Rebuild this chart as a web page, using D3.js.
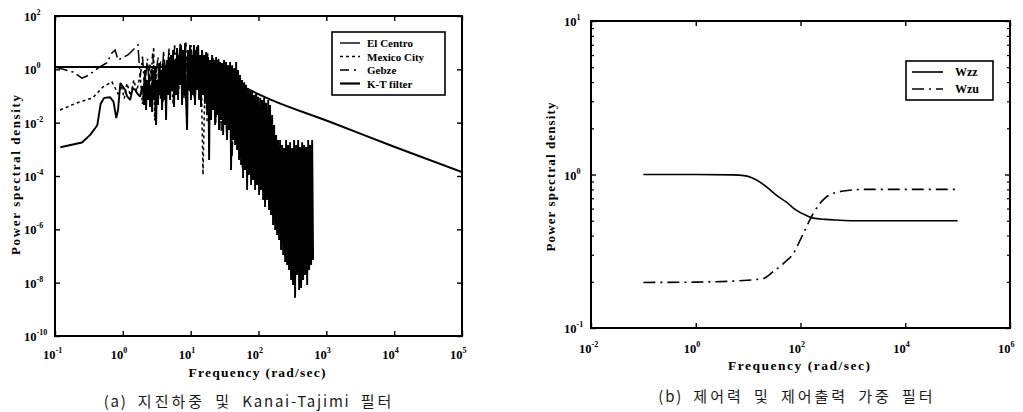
<!DOCTYPE html>
<html>
<head>
<meta charset="utf-8">
<script src="https://cdn.jsdelivr.net/npm/d3@7"></script>
<style>
  body { margin: 0; background: #fff; }
  svg { display: block; }
  .lab { font-family: "Liberation Serif", "DejaVu Serif", serif; font-weight: bold; fill: #000; }
  .cap { font-family: "Noto Sans CJK KR", sans-serif; fill: #1a1a1a; }
</style>
</head>
<body>
<svg id="chart" width="1023" height="412"></svg>
<script>
const d3 = globalThis.d3;

// ---- data: left panel, [frequency rad/s, PSD]
const ktFilter = [[0.1, 1.22], [1, 1.22], [3, 1.22], [6, 1.2], [10, 1.15], [20, 0.8], [30, 0.5],
  [50, 0.27], [75, 0.165], [148, 0.075], [1150, 0.0106], [1e4, 1.25e-3], [1e5, 1.4e-4]];

const gebze = [[0.1, 1.22], [0.184, 0.79], [0.25, 0.47], [0.296, 0.56], [0.36, 0.79], [0.45, 1.2],
  [0.58, 1.73], [0.69, 4.1], [0.77, 5.3], [0.85, 2.24], [1.19, 3.45], [1.67, 8.2], [1.8, 0.5],
  [1.95, 3.0], [2.1, 0.2], [2.3, 2.5], [2.5, 0.1], [2.75, 4.0], [3.0, 0.3], [3.3, 3.0], [3.6, 0.08],
  [4.0, 5.0], [4.4, 0.3], [4.8, 6.0], [5.3, 0.15], [5.8, 8.0], [6.4, 0.4], [7.0, 9.0], [7.7, 0.2],
  [8.5, 10], [9.3, 0.3], [10.2, 8.0], [11.2, 0.1], [12.3, 7.0], [13.5, 0.4], [14.8, 5.0], [16.2, 0.05],
  [17.8, 4.0], [19.5, 0.02], [21.4, 3.0], [23.5, 0.01], [25.8, 2.5], [28.3, 0.005], [31, 2.0],
  [34, 3e-3], [37, 1.5], [40.8, 5e-4], [44.7, 1.0], [49, 1e-3], [53.5, 0.5], [58, 2e-4], [64, 0.3], [70, 1e-4]];

const mexicoCity = [[0.119, 0.03], [0.21, 0.055], [0.36, 0.085], [0.51, 0.22], [0.69, 0.34], [0.77, 0.2],
  [0.85, 0.12], [0.95, 0.25], [1.05, 0.08], [1.15, 0.3], [1.3, 0.1], [1.45, 0.4], [1.6, 0.15], [1.8, 0.6],
  [1.95, 0.05], [2.1, 0.9], [2.3, 0.08], [2.5, 1.5], [2.7, 0.2], [2.85, 6.9], [2.95, 0.012], [3.1, 1.2],
  [3.3, 0.1], [3.6, 2.0], [3.9, 0.06], [4.2, 1.5], [4.6, 0.2], [5.0, 3.0], [5.5, 0.05], [6.0, 2.0],
  [6.6, 0.12], [7.2, 4.0], [8.0, 0.08], [8.8, 3.0], [9.6, 0.15], [10.5, 2.5], [11.5, 0.05], [12.5, 1.5],
  [13.5, 0.1], [14.2, 2.0], [15.2, 1.1e-4], [16.3, 0.5], [17.5, 0.01]];

const elCentro = [[0.12, 1.2e-3], [0.25, 1.8e-3], [0.33, 3.5e-3], [0.42, 8e-3], [0.47, 0.05], [0.53, 0.085],
  [0.65, 0.09], [0.73, 0.06], [0.8, 0.015], [0.85, 0.03], [0.92, 0.31], [0.97, 0.25], [1.08, 0.17],
  [1.15, 0.1], [1.28, 0.071], [1.4, 0.2], [1.51, 0.17], [1.65, 0.12], [1.8, 0.095], [1.92, 0.22],
  [1.99, 0.22], [2.05, 0.046], [2.12, 0.94], [2.2, 0.03], [2.27, 0.4], [2.35, 0.071], [2.43, 0.61],
  [2.52, 0.039], [2.61, 0.26], [2.7, 0.025], [2.79, 0.94], [2.88, 0.071], [2.98, 1.22], [3.09, 8.2e-3],
  [3.19, 0.4], [3.3, 0.046], [3.42, 1.73], [3.54, 0.109], [3.66, 0.94], [3.79, 0.03], [3.92, 1.73],
  [4.05, 0.071], [4.19, 1.22], [4.34, 0.0126], [4.49, 2.24], [4.64, 0.109], [4.8, 2.9], [4.97, 0.071],
  [5.14, 3.45], [5.32, 0.168], [5.5, 5.3], [5.69, 0.039], [5.89, 2.24], [6.09, 0.109], [6.3, 6.3],
  [6.52, 0.071], [6.75, 3.45], [6.98, 0.26], [7.22, 8.2], [7.47, 0.046], [7.73, 5.3], [8.0, 0.109],
  [8.27, 9.7], [8.55, 0.071], [8.85, 5.3e-3], [9.16, 5.3], [9.47, 0.168], [9.8, 8.2], [10.1, 0.071],
  [10.5, 3.45], [10.8, 0.109], [11.2, 8.2], [11.6, 0.046], [12.0, 5.3], [12.4, 0.168], [12.9, 8.2],
  [13.3, 0.071], [13.8, 3.45], [14.2, 0.039], [14.7, 5.3], [15.2, 0.109], [15.8, 3.45], [16.3, 0.071],
  [16.9, 4.5], [17.5, 0.0194], [18.1, 2.9], [18.7, 4.0e-4], [19.3, 2.24], [20.0, 0.0126], [20.7, 3.45],
  [21.4, 0.03], [22.1, 2.24], [22.9, 8.2e-3], [23.7, 2.9], [24.5, 0.0194], [25.4, 2.24], [26.2, 5.3e-3],
  [27.2, 1.9], [28.1, 0.0126], [29.0, 1.73], [30.1, 3.45e-3], [31.1, 2.24], [32.2, 8.2e-3], [33.3, 1.9],
  [34.4, 2.24e-3], [35.6, 1.43], [36.9, 5.3e-3], [38.1, 1.9], [39.4, 1.68e-4], [40.8, 1.43],
  [42.2, 2.24e-3], [43.7, 1.1], [45.2, 1.46e-3], [46.8, 1.9], [48.4, 9.4e-4], [50.0, 0.94],
  [51.7, 4.0e-4], [53.5, 0.61], [55.4, 2.6e-4], [57.3, 0.4], [59.3, 8.4e-5], [61.4, 0.33],
  [63.5, 1.68e-4], [65.6, 0.26], [67.9, 3.0e-5], [70.3, 0.2], [72.7, 1.09e-4], [75.2, 0.168],
  [77.8, 4.6e-5], [80.5, 0.14], [83.2, 7.1e-5], [86.1, 0.109], [89.1, 3.0e-5], [92.2, 0.13],
  [95.4, 4.6e-5], [98.6, 0.094], [102, 1.94e-5], [106, 0.085], [109, 3.0e-5], [113, 0.071],
  [117, 1.26e-5], [121, 0.085], [125, 6.9e-6], [129, 0.056], [134, 1.26e-5], [139, 0.071],
  [143, 5.3e-6], [148, 0.046], [153, 3.45e-6], [159, 0.0194], [164, 1.46e-6], [170, 8.2e-3],
  [176, 9.4e-7], [182, 3.45e-3], [188, 6.1e-7], [194, 2.24e-3], [201, 4.0e-7], [208, 2.24e-3],
  [215, 1.68e-7], [223, 1.46e-3], [231, 1.09e-7], [239, 1.12e-3], [247, 6.0e-8], [255, 2.24e-3],
  [264, 4.6e-8], [273, 1.46e-3], [282, 3.0e-8], [292, 1.85e-3], [302, 1.26e-8], [313, 1.12e-3],
  [323, 8.1e-9], [335, 2.24e-3], [346, 2.7e-9], [359, 1.46e-3], [371, 1.94e-8], [384, 2.24e-3],
  [397, 5.3e-9], [411, 1.22e-3], [425, 6.3e-9], [440, 1.85e-3], [455, 1.26e-8], [471, 1.46e-3],
  [487, 1.94e-8], [504, 1.22e-3], [522, 8.1e-9], [540, 2.24e-3], [558, 3.0e-8], [577, 1.46e-3],
  [597, 4.6e-8], [618, 2.24e-3], [638, 7.1e-8]];

// ---- data: right panel weighting filters
const wzz = [[0.1, 1.0], [1, 1.0], [5, 0.995], [9, 0.98], [14.5, 0.92], [22.5, 0.83], [35, 0.73],
  [54, 0.66], [80, 0.59], [130, 0.54], [175, 0.52], [300, 0.51], [490, 0.505], [1000, 0.5], [1e4, 0.5], [1e5, 0.5]];
const wzu = [[0.1, 0.198], [1, 0.199], [8, 0.204], [19.5, 0.21], [30, 0.233], [47, 0.263], [73, 0.306],
  [112, 0.41], [175, 0.557], [316, 0.716], [660, 0.78], [1820, 0.8], [1e4, 0.8], [1e5, 0.8]];

// ticks and texts
const leftXTicks = [1e-1, 1e0, 1e1, 1e2, 1e3, 1e4, 1e5];
const leftYTicks = [1e2, 1e0, 1e-2, 1e-4, 1e-6, 1e-8, 1e-10];
const rightXTicks = [1e-2, 1e0, 1e2, 1e4, 1e6];
const rightYTicks = [1e-1, 1e0, 1e1];
const leftLegend = ["El Centro", "Mexico City", "Gebze", "K-T filter"];
const rightLegend = ["Wzz", "Wzu"];
const yTitle = "Power spectral density";
const xTitle = "Frequency (rad/sec)";
const captionA = "(a) 지진하중 및 Kanai-Tajimi 필터";
const captionB = "(b) 제어력 및 제어출력 가중 필터";

const svg = d3.select("#chart");
svg.append("rect").attr("width", 1023).attr("height", 412).attr("fill", "#fff");

const dashGebze = "13,4,2,4";
const dashMexico = "3,3";
const dashWzu = "12,5,2,5";

function expOf(d) { return Math.round(Math.log10(d)); }

function supText(sel, d) {
  sel.append("tspan").text("10");
  sel.append("tspan").attr("dy", -6).attr("font-size", 8).text(expOf(d));
}

// korean runs are set wide like the scanned figure
function captionText(sel, str) {
  str.match(/[\uAC00-\uD7A3]+|[^\uAC00-\uD7A3]+/g).forEach(run => {
    const ko = /[\uAC00-\uD7A3]/.test(run);
    sel.append("tspan").attr("letter-spacing", ko ? 3 : 1.8).text(run);
  });
}

function panel(id, x, y, xTicks, yTicks, opt) {
  const g = svg.append("g").attr("id", id);
  const [x0, x1] = x.range();
  const [y0, y1] = y.range();

  g.append("clipPath").attr("id", id + "-clip")
    .append("rect").attr("x", x0).attr("y", y1).attr("width", x1 - x0).attr("height", y0 - y1);

  // inward ticks on all four sides
  const ax = [
    [d3.axisBottom(x).tickValues(xTicks), `translate(0,${y0})`],
    [d3.axisTop(x).tickValues(xTicks), `translate(0,${y1})`],
    [d3.axisLeft(y).tickValues(yTicks), `translate(${x0},0)`],
    [d3.axisRight(y).tickValues(yTicks), `translate(${x1},0)`]
  ];
  ax.forEach(([a, t]) => {
    g.append("g").attr("transform", t)
      .call(a.tickSize(-5).tickFormat(""))
      .call(s => s.select(".domain").remove())
      .selectAll("line").attr("stroke", "#000").attr("stroke-width", 1.4);
  });
  if (opt.minorY) {
    const minor = y.ticks().filter(d => yTicks.indexOf(d) < 0);
    [[d3.axisLeft(y), x0], [d3.axisRight(y), x1]].forEach(([a, px]) => {
      g.append("g").attr("transform", `translate(${px},0)`)
        .call(a.tickValues(minor).tickSize(-3).tickFormat(""))
        .call(s => s.select(".domain").remove())
        .selectAll("line").attr("stroke", "#000").attr("stroke-width", 1.2);
    });
  }

  g.append("rect").attr("x", x0).attr("y", y1).attr("width", x1 - x0).attr("height", y0 - y1)
    .attr("fill", "none").attr("stroke", "#000").attr("stroke-width", 2);

  g.selectAll(".xl").data(xTicks).join("text")
    .attr("class", "lab xl").attr("font-size", 12.5)
    .attr("x", d => x(d) - 12).attr("y", opt.xLabY)
    .each(function (d) { supText(d3.select(this), d); });

  g.selectAll(".yl").data(yTicks).join("text")
    .attr("class", "lab yl").attr("font-size", 12.5)
    .attr("x", opt.yLabX).attr("y", d => y(d) + 5)
    .each(function (d) { supText(d3.select(this), d); });

  g.append("text").attr("class", "lab").attr("font-size", 13)
    .attr("text-anchor", "middle")
    .attr("transform", `translate(${opt.yTitleX},${opt.yTitleY}) rotate(-90)`)
    .attr("textLength", opt.yTitleLen).attr("lengthAdjust", "spacing")
    .text(yTitle);

  g.append("text").attr("class", "lab").attr("font-size", 13.5)
    .attr("text-anchor", "middle")
    .attr("x", opt.xTitleX).attr("y", opt.xTitleY)
    .attr("textLength", opt.xTitleLen).attr("lengthAdjust", "spacing")
    .text(xTitle);

  g.append("text").attr("class", "cap").attr("font-size", 15)
    .attr("text-anchor", "middle").attr("word-spacing", 5)
    .attr("x", opt.capX).attr("y", opt.capY)
    .call(captionText, opt.caption);

  return g;
}

// ---------- (a) earthquake loads and Kanai-Tajimi filter
const xA = d3.scaleLog().domain([1e-1, 1e5]).range([55, 462]);
const yA = d3.scaleLog().domain([1e-10, 1e2]).range([336, 16]);

const gA = panel("pa", xA, yA, leftXTicks, leftYTicks, {
  xLabY: 359, yLabX: 24,
  yTitleX: 20, yTitleY: 175, yTitleLen: 160,
  xTitleX: 257, xTitleY: 377, xTitleLen: 137,
  capX: 249, capY: 407, caption: captionA
});

const lineA = d3.line().x(d => xA(d[0])).y(d => yA(d[1]));
const smoothA = d3.line().x(d => xA(d[0])).y(d => yA(d[1])).curve(d3.curveMonotoneX);
const curvesA = gA.append("g").attr("clip-path", "url(#pa-clip)").attr("fill", "none").attr("stroke", "#000");

curvesA.append("path").attr("d", lineA(elCentro)).attr("stroke-width", 1.9).attr("stroke-linejoin", "bevel");
curvesA.append("path").attr("d", lineA(mexicoCity)).attr("stroke-width", 1.5).attr("stroke-dasharray", dashMexico);
curvesA.append("path").attr("d", lineA(gebze)).attr("stroke-width", 1.5).attr("stroke-dasharray", dashGebze);
curvesA.append("path").attr("d", smoothA(ktFilter)).attr("stroke-width", 2);

// legend (a)
const legA = gA.append("g").attr("transform", "translate(332,32)");
legA.append("rect").attr("width", 113).attr("height", 63)
  .attr("fill", "#fff").attr("stroke", "#000").attr("stroke-width", 1.6);
const legStyleA = [
  { w: 1.4, dash: null }, { w: 1.5, dash: dashMexico }, { w: 1.5, dash: "9,5,2,5" }, { w: 2.2, dash: null }
];
leftLegend.forEach((name, i) => {
  const yy = 11 + i * 13.5;
  legA.append("line").attr("x1", 8).attr("x2", 28).attr("y1", yy).attr("y2", yy)
    .attr("stroke", "#000").attr("stroke-width", legStyleA[i].w)
    .attr("stroke-dasharray", legStyleA[i].dash);
  legA.append("text").attr("class", "lab").attr("font-size", 11)
    .attr("x", 35).attr("y", yy + 4).text(name);
});

// ---------- (b) control force / control output weighting filters
const xB = d3.scaleLog().domain([1e-2, 1e6]).range([591, 1010]);
const yB = d3.scaleLog().domain([1e-1, 1e1]).range([328, 21]);

const gB = panel("pb", xB, yB, rightXTicks, rightYTicks, {
  minorY: true,
  xLabY: 353, yLabX: 564,
  yTitleX: 555, yTitleY: 177, yTitleLen: 149,
  xTitleX: 799, xTitleY: 370, xTitleLen: 142,
  capX: 797, capY: 402, caption: captionB
});

const smoothB = d3.line().x(d => xB(d[0])).y(d => yB(d[1])).curve(d3.curveMonotoneX);
const curvesB = gB.append("g").attr("clip-path", "url(#pb-clip)").attr("fill", "none").attr("stroke", "#000");
curvesB.append("path").attr("d", smoothB(wzz)).attr("stroke-width", 1.6);
curvesB.append("path").attr("d", smoothB(wzu)).attr("stroke-width", 1.6).attr("stroke-dasharray", dashWzu);

const legB = gB.append("g").attr("transform", "translate(906,61)");
legB.append("rect").attr("width", 87).attr("height", 39)
  .attr("fill", "#fff").attr("stroke", "#000").attr("stroke-width", 1.6);
rightLegend.forEach((name, i) => {
  const yy = 11 + i * 17;
  legB.append("line").attr("x1", 6).attr("x2", 37).attr("y1", yy).attr("y2", yy)
    .attr("stroke", "#000").attr("stroke-width", 1.6)
    .attr("stroke-dasharray", i ? dashWzu : null);
  legB.append("text").attr("class", "lab").attr("font-size", 12)
    .attr("x", 49).attr("y", yy + 4).text(name);
});
</script>
</body>
</html>
